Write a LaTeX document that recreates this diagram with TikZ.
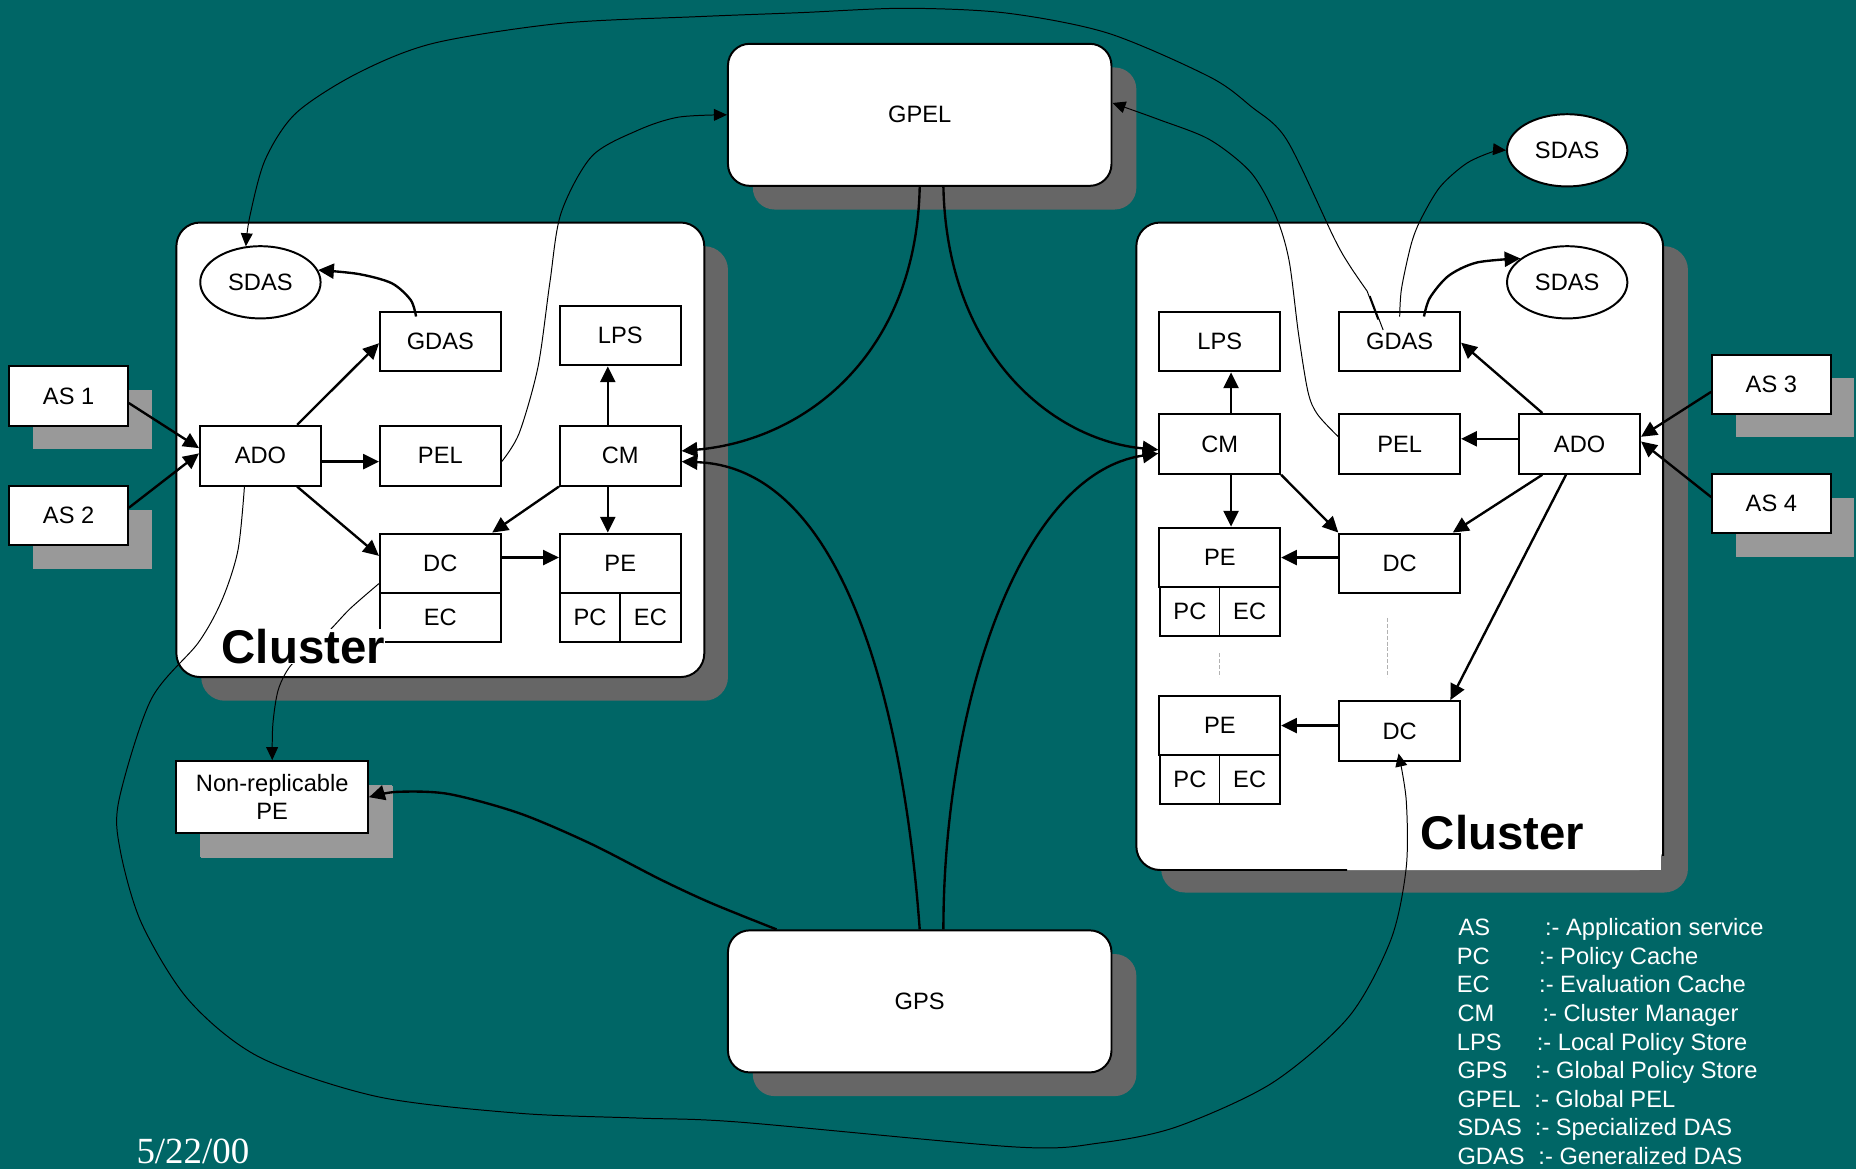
\documentclass[tikz,border=0pt]{standalone}
\usepackage{fontspec}
\setmainfont{Liberation Sans}
\newfontfamily\datefont{Liberation Serif}
\usetikzlibrary{arrows.meta,shadows,shapes.geometric}

\definecolor{slidebg}{HTML}{006666}
\definecolor{shadowdark}{HTML}{666666}
\definecolor{shadowlight}{HTML}{999999}

\begin{document}
\begin{tikzpicture}[x=0.6pt,y=-0.6pt,
  font=\fontsize{12}{14.4}\selectfont,
  comp/.style={rectangle,draw=black,line width=1pt,fill=white,inner sep=0pt,
    minimum width=61.2pt,minimum height=30.3pt},
  cell/.style={comp,minimum width=30.6pt,minimum height=24.6pt},
  dasnode/.style={ellipse,draw=black,line width=1pt,fill=white,inner sep=0pt,
    minimum width=61pt,minimum height=36.6pt},
  asbox/.style={comp,minimum width=60pt,minimum height=30pt,
    drop shadow={shadow xshift=12pt,shadow yshift=-12pt,fill=shadowlight,opacity=1}},
  globalbox/.style={rectangle,rounded corners=11pt,draw=black,line width=1pt,fill=white,
    minimum width=194.4pt,minimum height=72pt,
    drop shadow={shadow xshift=12.6pt,shadow yshift=-12pt,fill=shadowdark,opacity=1}},
  heavy/.style={line width=1.2pt,-{Triangle[length=8pt,width=7.6pt]}},
  light/.style={line width=0.5pt,-{Triangle[length=6.6pt,width=6pt]}},
  clusterbox/.style={draw=black,line width=1pt,rounded corners=12pt},
  clusterlabel/.style={anchor=base west,inner sep=0pt,fill=white,
    font=\bfseries\fontsize{24}{28}\selectfont},
  legend/.style={anchor=base west,inner sep=0pt,text=white},
  gap/.style={draw=gray!60,line width=0.5pt,dash pattern=on 2pt off 1pt}
]
% slide background
\fill[slidebg] (0,0) rectangle (1568,988);
\useasboundingbox (0,0) rectangle (1568,988);

% cluster panels
\fill[shadowdark,rounded corners=12pt] (170,208) rectangle (615,592);
\filldraw[fill=white,clusterbox] (149,188) rectangle (595,572);
\fill[shadowdark,rounded corners=12pt] (981,208) rectangle (1426,754);
\fill[white,rounded corners=12pt] (960,188) rectangle (1405,735);
\fill[white] (1300,690) rectangle (1403,735);
\draw[clusterbox] (1138,735) -- (960,735) -- (960,188) -- (1405,188) -- (1405,723);

% global services
\node[globalbox] (gpel) at (777,97) {GPEL};
\node[globalbox] (gps) at (777,846) {GPS};

% left cluster
\node[dasnode] (sdasL) at (220,238.5) {SDAS};
\node[comp] (gdasL) at (372,288.5) {GDAS};
\node[comp] (lpsL) at (524,283.5) {LPS};
\node[comp] (adoL) at (220,385) {ADO};
\node[comp] (pelL) at (372,385) {PEL};
\node[comp] (cmL) at (524,385) {CM};
\node[comp] (dcL) at (372,476) {DC};
\node[comp,minimum height=24.6pt] (ecL) at (372,521.5) {EC};
\node[comp] (peL) at (524,476) {PE};
\node[cell] (pcL) at (498.5,521.5) {PC};
\node[cell] (pecL) at (549.5,521.5) {EC};
\node[asbox] (as1) at (58,334.5) {AS 1};
\node[asbox] (as2) at (58,435.5) {AS 2};
\node[asbox,minimum width=97.2pt,minimum height=36.6pt,align=center,
  drop shadow={shadow xshift=12.6pt,shadow yshift=-12.6pt,fill=shadowlight,opacity=1}]
  (nrpe) at (230,673.5) {Non-replicable\\PE};

% right cluster
\node[dasnode] (sdasTop) at (1324,127) {SDAS};
\node[dasnode] (sdasR) at (1324,238.5) {SDAS};
\node[comp] (lpsR) at (1030.5,288.5) {LPS};
\node[comp] (gdasR) at (1182.5,288.5) {GDAS};
\node[comp] (cmR) at (1030.5,375) {CM};
\node[comp] (pelR) at (1182.5,375) {PEL};
\node[comp] (adoR) at (1334.5,375) {ADO};
\node[comp] (peRa) at (1030.5,471) {PE};
\node[cell] (pcRa) at (1005.25,516.5) {PC};
\node[cell] (ecRa) at (1055.75,516.5) {EC};
\node[comp] (dcRa) at (1182.5,476) {DC};
\node[comp] (peRb) at (1030.5,613) {PE};
\node[cell] (pcRb) at (1005.25,658.5) {PC};
\node[cell] (ecRb) at (1055.75,658.5) {EC};
\node[comp] (dcRb) at (1182.5,617.5) {DC};
\node[asbox] (as3) at (1496.5,324.5) {AS 3};
\node[asbox] (as4) at (1496.5,425.5) {AS 4};

% elided replicas
\draw[gap] (1030,552) -- (1030,572);
\draw[gap] (1172,522) -- (1172,572);

% links inside the left cluster
\draw[heavy] ([shift={(0,6)}]as1.east) -- ([shift={(0,-6.4)}]adoL.west);
\draw[heavy] ([shift={(0,-6.5)}]as2.east) -- ([shift={(0,-2)}]adoL.west);
\draw[heavy] ([shift={(31,0)}]adoL.north) -- ([shift={(0,1.5)}]gdasL.west);
\draw[heavy] ([shift={(0,5)}]adoL.east) -- ([shift={(0,5)}]pelL.west);
\draw[heavy] ([shift={(31,0)}]adoL.south) -- ([shift={(0,-6.4)}]dcL.west);
\draw[heavy] ([shift={(-10.5,0)}]cmL.north) -- ([shift={(-10.5,0)}]lpsL.south);
\draw[heavy] ([shift={(-10.5,0)}]cmL.south) -- ([shift={(-10.5,0)}]peL.north);
\draw[heavy] (cmL.south west) -- ([shift={(-8,0)}]dcL.north east);
\draw[heavy] ([shift={(0,-5)}]dcL.east) -- ([shift={(0,-5)}]peL.west);
\draw[heavy] plot[smooth] coordinates {([shift={(-20.5,5)}]gdasL.north) (347,253.5) (331,239.3) (303,231.5) (sdasL.12)};

% links inside the right cluster
\draw[heavy] ([shift={(0,6.5)}]as3.west) -- ([shift={(0,-6)}]adoR.east);
\draw[heavy] ([shift={(0,-5.5)}]as4.west) -- ([shift={(0,-2)}]adoR.east);
\draw[heavy] ([shift={(-31.5,0)}]adoR.north) -- ([shift={(0,1)}]gdasR.east);
\draw[heavy] ([shift={(0,-4.3)}]adoR.west) -- ([shift={(0,-4.3)}]pelR.east);
\draw[heavy] ([shift={(-31.5,0)}]adoR.south) -- ([shift={(-7,0)}]dcRa.north east);
\draw[heavy] ([shift={(-11.5,0)}]adoR.south) -- ([shift={(-9,0)}]dcRb.north east);
\draw[heavy] ([shift={(9.5,0)}]cmR.north) -- ([shift={(9.5,0)}]lpsR.south);
\draw[heavy] ([shift={(9.5,0)}]cmR.south) -- ([shift={(9.5,0)}]peRa.north);
\draw[heavy] (cmR.south east) -- (dcRa.north west);
\draw[heavy] (dcRa.west |- peRa.east) -- (peRa.east);
\draw[heavy] (dcRb.west |- peRb.east) -- (peRb.east);
\draw[heavy] plot[smooth] coordinates {([shift={(20.5,5)}]gdasR.north) (1208,251.6) (1223.8,233) (1247.6,221.8) (sdasR.153)};

% global links
\draw[heavy] (gpel.south) .. controls (774,300) and (680,372) .. ([shift={(0,-4)}]cmL.east);
\draw[heavy] ([shift={(20,0)}]gpel.south) .. controls (800,300) and (890,372) .. ([shift={(0,5)}]cmR.west);
\draw[heavy] (gps.north) .. controls (765,620) and (720,395) .. ([shift={(0,5)}]cmL.east);
\draw[heavy] ([shift={(20,0)}]gps.north) .. controls (797,600) and (860,400) .. ([shift={(0,8)}]cmR.west);
\draw[heavy] plot[smooth] coordinates {([shift={(-121,0)}]gps.north) (601,763) (558,743) (498.5,712.5) (438.6,687) (378.6,670.7) (335,669) (nrpe.east)};

% thin links
\draw[light] plot[smooth] coordinates {([shift={(0,5)}]pelL.east) (438.6,366) (454.5,310) (464.5,239) (474,180) (500,132) (539,110) (573,99) (gpel.west)};
\draw[light] plot[smooth] coordinates {([shift={(0,-6)}]pelR.west) (1113,350) (1105,331) (1097,282) (1089,220) (1078,183) (1057,146) (1022,118) (979,101) ([shift={(0,-10)}]gpel.east)};
\draw[light] plot[smooth] coordinates {([shift={(0,5)}]gdasR.north) (1184,244) (1192,207) (1200,186) (1216.5,158) (1239,138) (1261.6,128) (sdasTop.west)};
\draw[light] ([shift={(-14,-9.7)}]gdasR.center) -- (1157.5,250) -- (1164,270) -- (1155,246)
  -- plot[smooth] coordinates {(1155,246) (1140,224) (1127,201) (1087,118) (1057,90) (1022,65) (936,28) (850,11) (764,7) (676,10.7) (591,14) (474,19.7) (366,36.6) (301.7,62) (250,95.6) (224,135) (211,183) (sdasL.112)};
\draw[light] plot[smooth] coordinates {([shift={(-13.5,0)}]adoL.south) (201,465) (187.5,507) (167.5,543) (127.6,591) (100.5,676) (101.5,718) (119.6,780) (159.5,845) (219,893) (319,926.5) (438.6,940.5) (540,944.6) (625,948) (858,969) (929,965.6) (994,952) (1074.6,915) (1139.5,859) (1175,794) (1188,733) (1188,676) ([shift={(-1,-7)}]dcRb.south)};
\draw[light] plot[smooth] coordinates {([shift={(0,17)}]dcL.west) (296,514) (279,532) (262,548) (245,563) (235,583) (230.5,612) (nrpe.north)};

% cluster captions
\node[clusterlabel] at (187,560.3) {Cluster};
\node[clusterlabel] at (1200,718) {Cluster};

% legend
\node[legend] at (1232,790.7) {AS};   \node[legend] at (1305,790.7) {:- Application service};
\node[legend] at (1230.5,814.8) {PC}; \node[legend] at (1300,814.8) {:- Policy Cache};
\node[legend] at (1230.5,838.9) {EC}; \node[legend] at (1300,838.9) {:- Evaluation Cache};
\node[legend] at (1231,863.0) {CM};   \node[legend] at (1302.8,863.0) {:- Cluster Manager};
\node[legend] at (1230.5,887.1) {LPS};\node[legend] at (1298,887.1) {:- Local Policy Store};
\node[legend] at (1231,911.2) {GPS};  \node[legend] at (1296.6,911.2) {:- Global Policy Store};
\node[legend] at (1231,935.3) {GPEL}; \node[legend] at (1296,935.3) {:- Global PEL};
\node[legend] at (1231,959.4) {SDAS}; \node[legend] at (1296.4,959.4) {:- Specialized DAS};
\node[legend] at (1231,983.5) {GDAS}; \node[legend] at (1299.4,983.5) {:- Generalized DAS};

% date stamp
\node[legend,font=\datefont\fontsize{18.7}{20}\selectfont] at (115,982.8) {5/22/00};
\end{tikzpicture}
\end{document}
